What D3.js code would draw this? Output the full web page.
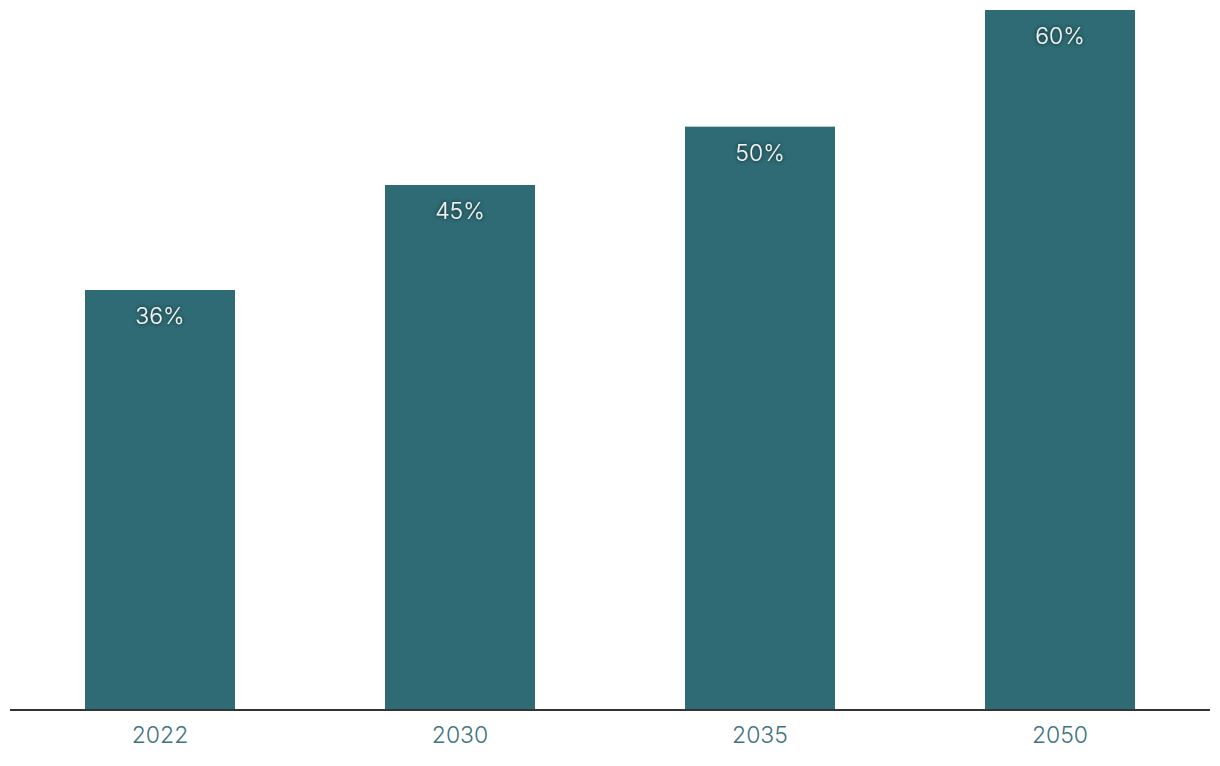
<!DOCTYPE html>
<html>
<head>
<meta charset="utf-8">
<script src="https://cdn.jsdelivr.net/npm/d3@7"></script>
<style>
html,body{margin:0;padding:0;background:#fff;}
svg{display:block;}
</style>
</head>
<body>
<svg id="chart" width="1220" height="766"></svg>
<script>
const categories = ["2022", "2030", "2035", "2050"];
const values = [36, 45, 50, 60];
const labels = ["36%", "45%", "50%", "60%"];

const svg = d3.select("#chart");
const defs = svg.append("defs");
const f = defs.append("filter").attr("id","shadow").attr("x","-20%").attr("y","-40%").attr("width","140%").attr("height","180%");
f.append("feDropShadow").attr("dx",0).attr("dy",0).attr("stdDeviation",2).attr("flood-color","#000").attr("flood-opacity",0.7);

const x = d3.scaleBand().domain(categories).range([10, 1210]).paddingInner(0.5).paddingOuter(0.25);
const y = d3.scaleLinear().domain([0, 60]).range([710, 10]);

svg.selectAll("rect.bar").data(values).enter().append("rect")
  .attr("class","bar")
  .attr("x",(d,i)=>x(categories[i]))
  .attr("y",d=>y(d))
  .attr("width",x.bandwidth())
  .attr("height",d=>y(0)-y(d))
  .attr("fill","#2e6b74");

svg.selectAll("text.val").data(values).enter().append("text")
  .attr("class","val")
  .attr("x",(d,i)=>x(categories[i])+x.bandwidth()/2)
  .attr("y",d=>y(d)+34)
  .attr("text-anchor","middle")
  .attr("font-family","Inter, 'Liberation Sans', sans-serif")
  .attr("font-weight",300)
  .attr("font-size",23)
  .attr("fill","#f4f4f4")
  .attr("filter","url(#shadow)")
  .text((d,i)=>labels[i]);

const axis = d3.axisBottom(x).tickSize(0).tickPadding(17);
const g = svg.append("g").attr("transform","translate(0,710)").call(axis);
g.select(".domain").attr("stroke","#333").attr("stroke-width",2).attr("d","M10,0H1210");
g.selectAll(".tick text")
  .attr("font-family","Inter, 'Liberation Sans', sans-serif")
  .attr("font-weight",300)
  .attr("font-size",23)
  .attr("fill","#3f7480");
</script>
</body>
</html>
